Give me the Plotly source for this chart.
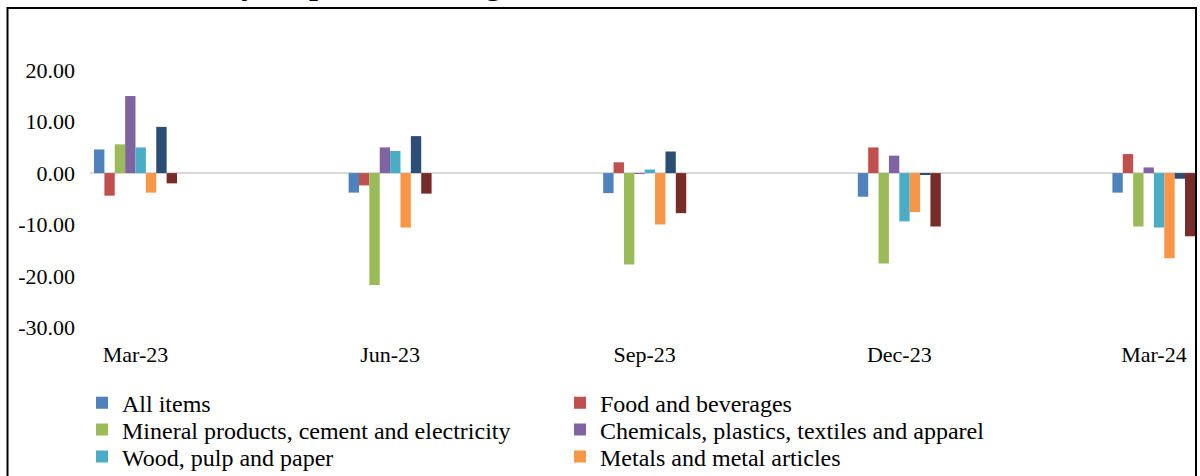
import plotly.graph_objects as go

# Quarterly periods on the category axis
periods = ["Mar-23", "Jun-23", "Sep-23", "Dec-23", "Mar-24"]

# Year-on-year percent change by product group
all_items = [4.6, -3.8, -3.9, -4.6, -3.8]
food_bev = [-4.4, -2.4, 2.1, 5.0, 3.7]
mineral = [5.6, -21.8, -17.8, -17.6, -10.4]
chemicals = [15.0, 5.0, -0.1, 3.4, 1.1]
wood = [5.0, 4.3, 0.7, -9.4, -10.6]
metals = [-3.8, -10.6, -10.0, -7.6, -16.6]
machinery = [9.0, 7.2, 4.2, -0.2, -1.1]
other_mfg = [-2.0, -4.0, -7.8, -10.4, -12.3]

# (name, values, colour, legend row or None)
series = [
    ("All items", all_items, "#4F81BD", "legend"),
    ("Food and beverages", food_bev, "#C0504D", "legend"),
    ("Mineral products, cement and electricity", mineral, "#9BBB59", "legend2"),
    ("Chemicals, plastics, textiles and apparel", chemicals, "#8064A2", "legend2"),
    ("Wood, pulp and paper", wood, "#4BACC6", "legend3"),
    ("Metals and metal articles", metals, "#F79646", "legend3"),
    ("Machinery and equipment", machinery, "#2C4D75", None),
    ("Other manufactured goods", other_mfg, "#772C2A", None),
]

y_ticks = [20, 10, 0, -10, -20, -30]
y_tick_text = [f"{v:.2f}" for v in y_ticks]

FONT = "Liberation Serif, Times New Roman, serif"

W, H = 1200, 476
Y_MIN, Y_MAX = -32.3, 30
PX_PER_UNIT = 5.143
ML, MR, MT = 90, 4, 19
PH = (Y_MAX - Y_MIN) * PX_PER_UNIT
MB = H - MT - PH
PW = W - ML - MR


def px_x(px):
    return (px - ML) / PW


def px_y(py):
    return (H - MB - py) / PH


fig = go.Figure()
for name, vals, color, leg in series:
    fig.add_trace(go.Bar(
        x=periods, y=vals, name=name,
        marker=dict(color=color, line=dict(width=0)),
        showlegend=leg is not None,
        legend=leg if leg else "legend",
    ))


def legend_row(top_px):
    return dict(
        orientation="h", x=px_x(82), y=px_y(top_px), xanchor="left", yanchor="top",
        entrywidth=433, entrywidthmode="pixels",
        font=dict(family=FONT, size=24, color="black"),
        bgcolor="rgba(0,0,0,0)", traceorder="normal",
    )


fig.update_layout(
    width=W, height=H,
    margin=dict(l=ML, r=MR, t=MT, b=MB, autoexpand=False),
    paper_bgcolor="white", plot_bgcolor="white",
    barmode="group", bargap=0.674, bargroupgap=0,
    font=dict(family=FONT, size=22, color="black"),
    legend=legend_row(381),
    legend2=legend_row(408),
    legend3=legend_row(435),
    xaxis=dict(
        type="category", range=[(ML - 135.5) / 254.6, (W - MR - 135.5) / 254.6],
        showgrid=False, showline=False, zeroline=False, ticks="",
        tickfont=dict(family=FONT, size=22, color="black"),
    ),
    yaxis=dict(
        range=[Y_MIN, Y_MAX], tickvals=y_ticks, ticktext=y_tick_text,
        showgrid=False, showline=False, ticks="",
        zeroline=True, zerolinecolor="#D9D9D9", zerolinewidth=2,
        ticklabelstandoff=14,
        tickfont=dict(family=FONT, size=22, color="black"),
    ),
    shapes=[dict(
        type="rect", xref="paper", yref="paper",
        x0=px_x(7.5), x1=px_x(1196), y0=px_y(500), y1=px_y(8),
        line=dict(color="black", width=2), fillcolor="rgba(0,0,0,0)",
        layer="above",
    )],
    annotations=[dict(
        text="<b>Chart 1: Year-on-year percent change</b>",
        xref="paper", yref="paper", x=px_x(-2), y=px_y(2.5),
        xanchor="left", yanchor="bottom", showarrow=False,
        font=dict(family=FONT, size=32, color="black"),
    )],
)

fig.write_html("out.html")
